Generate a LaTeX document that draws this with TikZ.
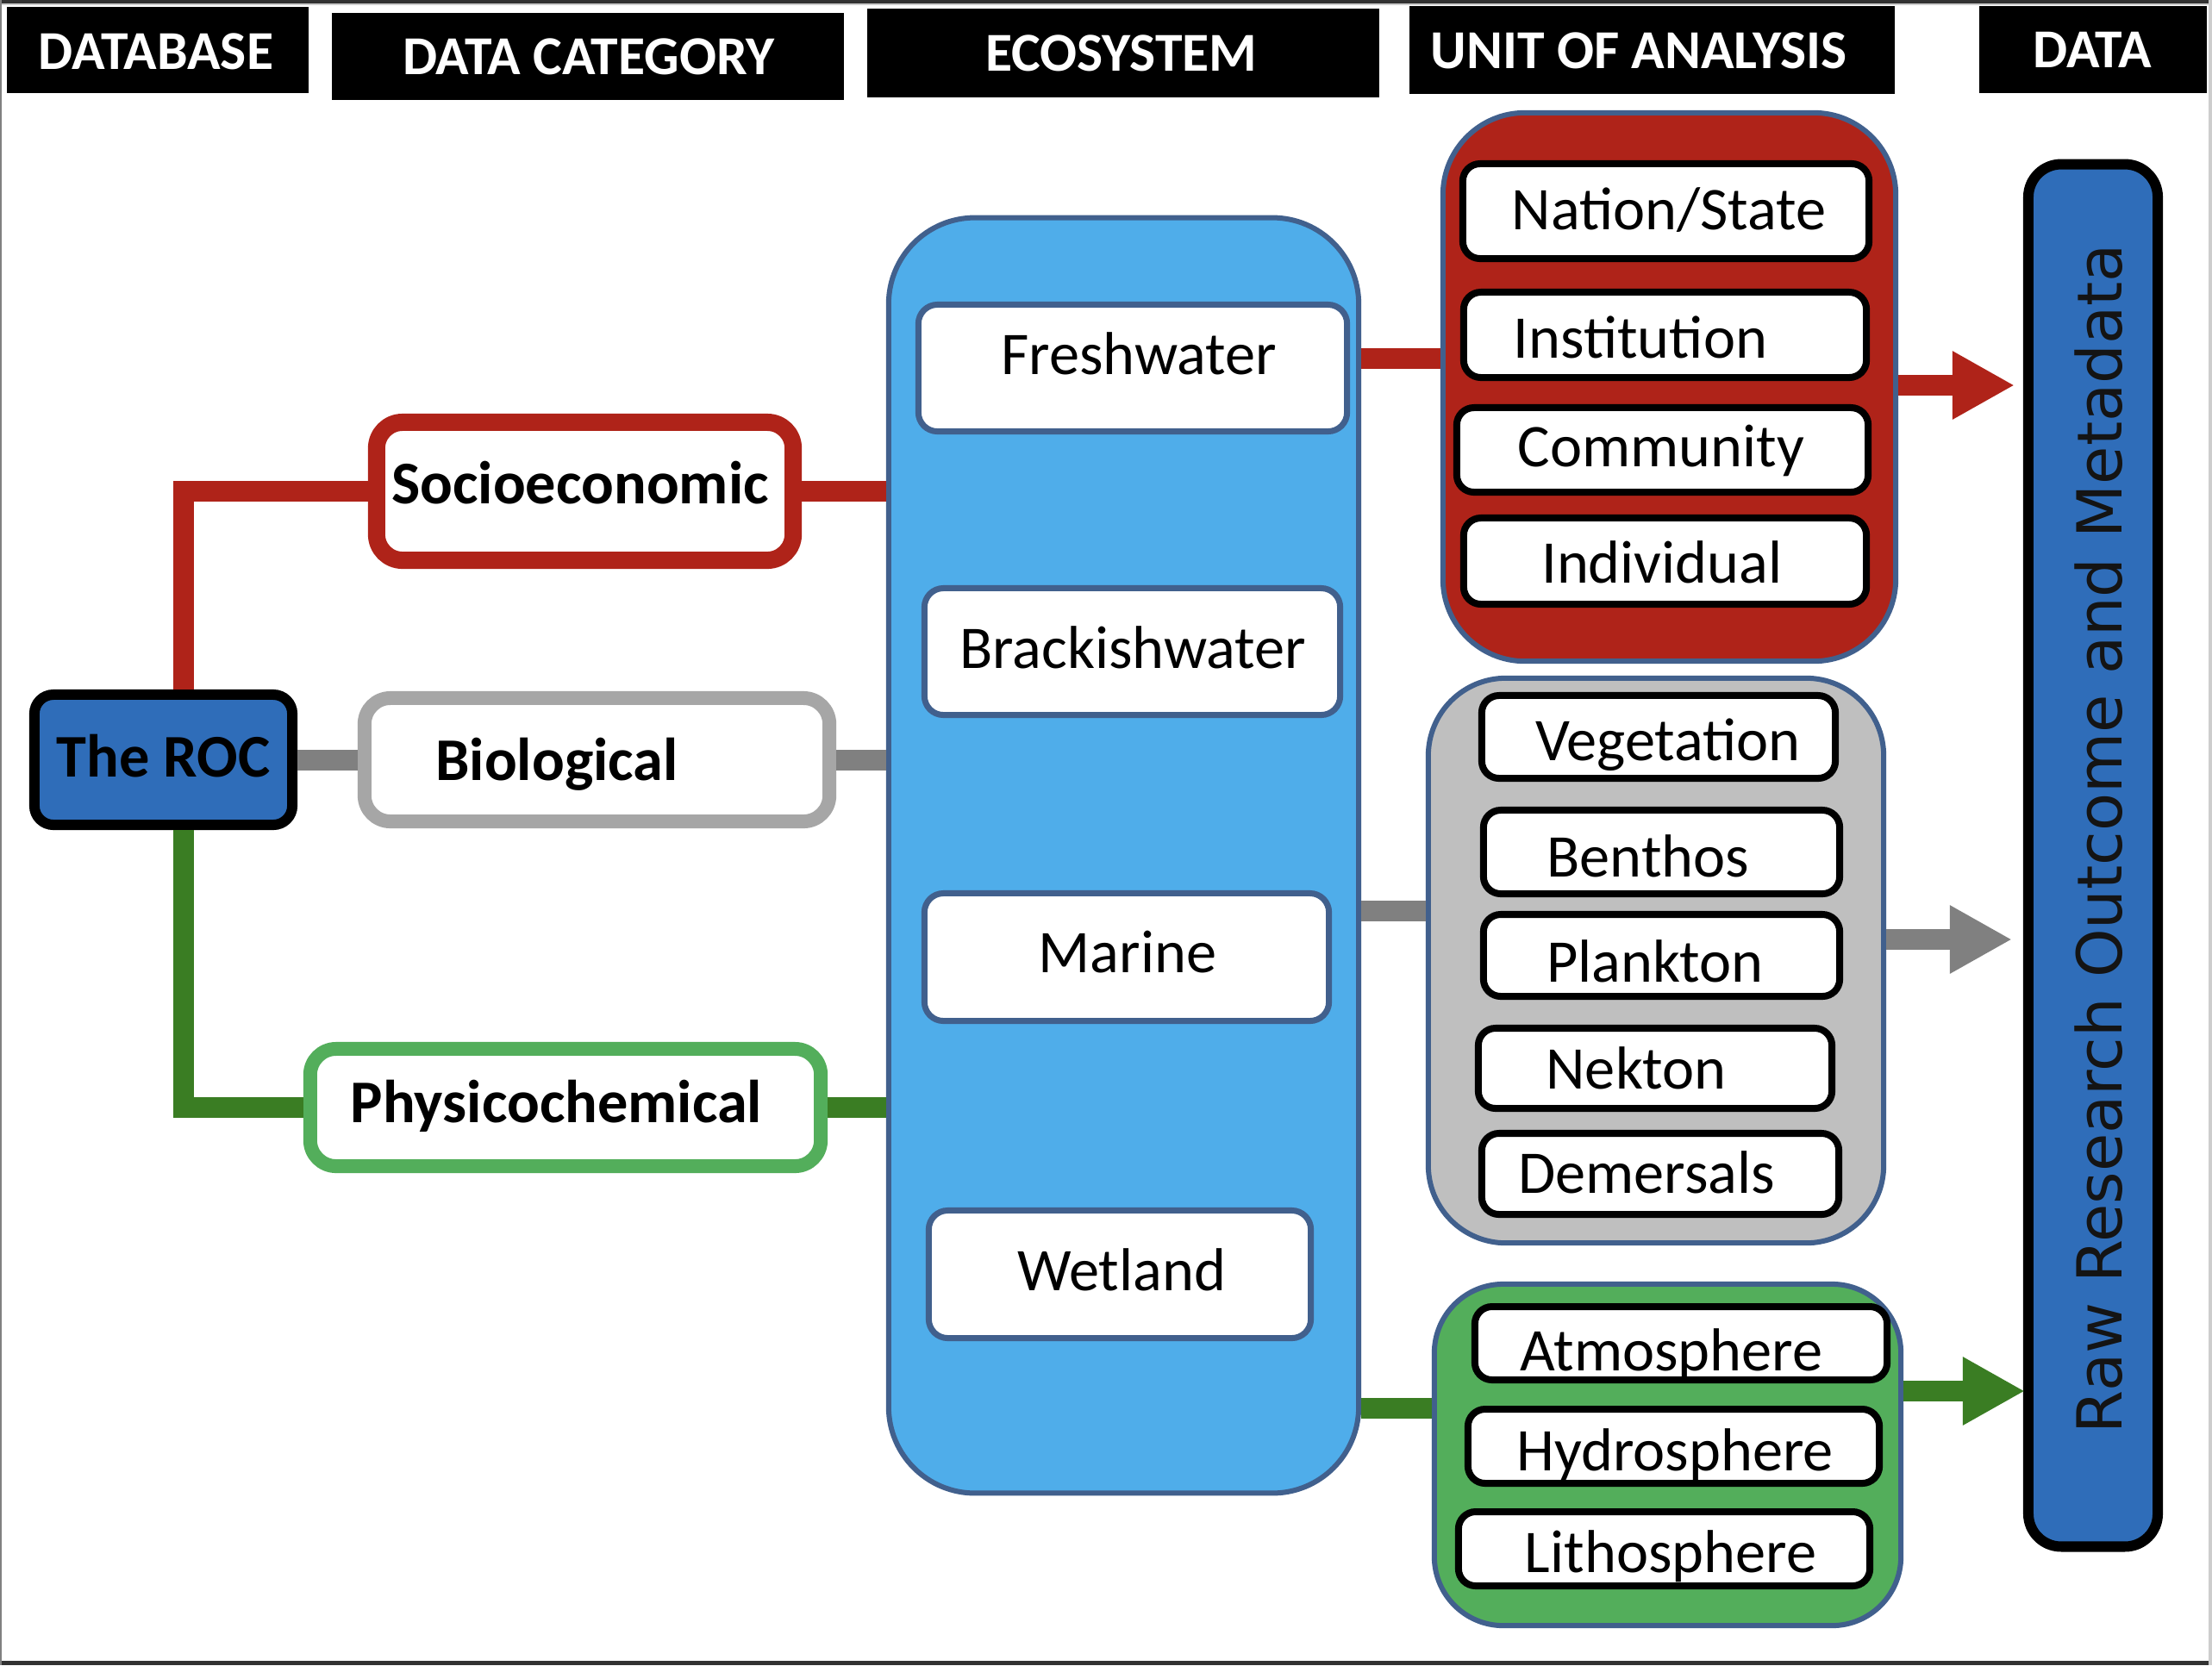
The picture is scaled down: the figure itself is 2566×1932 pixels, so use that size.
\documentclass[tikz,border=0pt]{standalone}
\usepackage{fontspec}
\setmainfont{Carlito}
\newfontfamily\vfont{DejaVu Sans}
\usetikzlibrary{arrows.meta,calc}
\definecolor{rocblue}{RGB}{47,109,185}
\definecolor{ecoblue}{RGB}{79,173,234}
\definecolor{edgeblue}{RGB}{65,96,141}
\definecolor{redc}{RGB}{175,35,25}
\definecolor{grayline}{RGB}{128,128,128}
\definecolor{graybord}{RGB}{166,166,166}
\definecolor{grayfill}{RGB}{191,191,191}
\definecolor{darkgreen}{RGB}{58,125,35}
\definecolor{lightgreen}{RGB}{83,174,91}
\definecolor{framedark}{RGB}{50,50,50}
\definecolor{framelight}{RGB}{205,205,205}
\begin{document}
\begin{tikzpicture}[x=0.01cm,y=-0.01cm,
  hdr/.style={fill=black, inner sep=0pt},
  htxt/.style={text=white, inner sep=0pt, font=\fontsize{18.1}{20}\selectfont\bfseries, text height=11.4pt, text depth=0pt},
  lbl/.style={inner sep=0pt, text height=12.6pt, text depth=0pt, font=\fontsize{20}{24}\selectfont},
  blbl/.style={lbl, font=\fontsize{20}{24}\selectfont\bfseries},
  catbox/.style={fill=white, inner sep=0pt, rounded corners=0.3cm},
  ecobox/.style={draw=edgeblue, fill=white, line width=0.07cm, inner sep=0pt, rounded corners=0.22cm},
  unitbox/.style={draw=black, fill=white, line width=0.08cm, inner sep=0pt, rounded corners=0.2cm},
  grp/.style={draw=edgeblue, line width=0.06cm, inner sep=0pt, rounded corners=0.9cm},
  conn/.style={line width=0.24cm},
  arr/.style={line width=0.24cm, -{Triangle[length=0.72cm,width=0.74cm]}}
]
\useasboundingbox (0,0) rectangle (2566,1932);
\fill[white] (0,0) rectangle (2566,1932);
% frame
\fill[framedark] (0,0) rectangle (2566,4);
\fill[framelight] (0,4) rectangle (2566,6);
\fill[framedark] (0,1927) rectangle (2566,1932);
\fill[gray] (0,0) rectangle (2,1932);
\fill[framelight] (2562,0) rectangle (2566,1932);

% headers
\node[hdr, minimum width=3.50cm, minimum height=1.00cm] (hdb) at (183,58) {};
\node[htxt] (t-hdb) at (181,60) {DATABASE};
\node[hdr, minimum width=5.94cm, minimum height=1.01cm] (hcat) at (682,65.5) {};
\node[htxt] (t-hcat) at (683,66.5) {DATA CATEGORY};
\node[hdr, minimum width=5.94cm, minimum height=1.03cm] (heco) at (1303,61.5) {};
\node[htxt] (t-heco) at (1301,62) {ECOSYSTEM};
\node[hdr, minimum width=5.63cm, minimum height=1.02cm] (hunit) at (1916.5,58) {};
\node[htxt] (t-hunit) at (1901,59) {UNIT OF ANALYSIS};
\node[hdr, minimum width=2.64cm, minimum height=1.01cm] (hdata) at (2428,57.5) {};
\node[htxt] (t-hdata) at (2427,58) {DATA};

% database and categories
\node[draw=black, fill=rocblue, line width=0.12cm, inner sep=0pt, rounded corners=0.22cm,
      minimum width=2.99cm, minimum height=1.51cm] (roc) at (189.5,881.5) {};
\node[blbl] (t-roc) at (189.5,879) {The ROC};
\node[catbox, draw=redc, line width=0.20cm, minimum width=4.83cm, minimum height=1.60cm] (socio) at (678.5,570) {};
\node[blbl] (t-socio) at (673,562) {Socioeconomic};
\node[catbox, draw=graybord, line width=0.16cm, minimum width=5.39cm, minimum height=1.43cm] (bio) at (692.5,881.5) {};
\node[blbl] (t-bio) at (646,883) {Biological};
\node[catbox, draw=lightgreen, line width=0.16cm, minimum width=5.92cm, minimum height=1.36cm] (phys) at (656,1285) {};
\node[blbl] (t-phys) at (645.5,1280) {Physicochemical};

% ecosystem
\node[draw=edgeblue, fill=ecoblue, line width=0.06cm, inner sep=0pt, rounded corners=1.0cm,
      minimum width=5.45cm, minimum height=14.79cm] (eco) at (1303.5,992.5) {};
\node[ecobox, minimum width=4.97cm, minimum height=1.47cm] (fresh) at (1314,427) {};
\node[lbl] (t-fresh) at (1321,412) {Freshwater};
\node[ecobox, minimum width=4.82cm, minimum height=1.47cm] (brack) at (1313.5,756) {};
\node[lbl] (t-brack) at (1314,753) {Brackishwater};
\node[ecobox, minimum width=4.69cm, minimum height=1.48cm] (marine) at (1307,1110.5) {};
\node[lbl] (t-marine) at (1308,1106) {Marine};
\node[ecobox, minimum width=4.43cm, minimum height=1.48cm] (wet) at (1299,1478.5) {};
\node[lbl] (t-wet) at (1301,1475) {Wetland};

% unit groups
\node[grp, fill=redc, minimum width=5.25cm, minimum height=6.36cm, rounded corners=0.95cm] (grpr) at (1936.5,449) {};
\node[unitbox, minimum width=4.71cm, minimum height=1.10cm] (nation) at (1932.5,245) {};
\node[lbl] (t-nation) at (1936,244) {Nation/State};
\node[unitbox, minimum width=4.67cm, minimum height=0.99cm] (inst) at (1931.5,388.5) {};
\node[lbl] (t-inst) at (1903,393.5) {Institution};
\node[unitbox, minimum width=4.77cm, minimum height=0.98cm] (comm) at (1928.5,522) {};
\node[lbl] (t-comm) at (1927,519.5) {Community};
\node[unitbox, minimum width=4.67cm, minimum height=1.00cm] (indiv) at (1931.5,651) {};
\node[lbl] (t-indiv) at (1928,654.5) {Individual};

\node[grp, fill=grayfill, minimum width=5.28cm, minimum height=6.55cm] (grpg) at (1921,1114.5) {};
\node[unitbox, minimum width=4.10cm, minimum height=0.96cm] (veg) at (1924,855) {};
\node[lbl] (t-veg) at (1935,860.5) {Vegetation};
\node[unitbox, minimum width=4.13cm, minimum height=0.97cm] (benth) at (1927.5,988.5) {};
\node[lbl] (t-benth) at (1912,995) {Benthos};
\node[unitbox, minimum width=4.13cm, minimum height=0.95cm] (plank) at (1927.5,1108.5) {};
\node[lbl] (t-plank) at (1920,1117) {Plankton};
\node[unitbox, minimum width=4.10cm, minimum height=0.93cm] (nekt) at (1920,1239.5) {};
\node[lbl] (t-nekt) at (1898,1241) {Nekton};
\node[unitbox, minimum width=4.14cm, minimum height=0.94cm] (dem) at (1926,1362) {};
\node[lbl] (t-dem) at (1910,1362.5) {Demersals};

\node[grp, fill=lightgreen, minimum width=5.41cm, minimum height=3.96cm, rounded corners=0.8cm] (grpn) at (1934.5,1688) {};
\node[unitbox, minimum width=4.78cm, minimum height=0.85cm] (atm) at (1950,1558.5) {};
\node[lbl] (t-atm) at (1939,1568) {Atmosphere};
\node[unitbox, minimum width=4.77cm, minimum height=0.86cm] (hyd) at (1941.5,1678) {};
\node[lbl] (t-hyd) at (1943,1684) {Hydrosphere};
\node[unitbox, minimum width=4.77cm, minimum height=0.86cm] (lith) at (1930.5,1797) {};
\node[lbl] (t-lith) at (1938,1802) {Lithosphere};

% data bar
\node[draw=black, fill=rocblue, line width=0.12cm, inner sep=0pt, rounded corners=0.38cm,
      minimum width=1.50cm, minimum height=16.03cm] (bar) at (2428,992.5) {};
\node[rotate=90, inner sep=0pt, text height=14.9pt, text depth=0pt, text=black!92,
      font=\vfont\fontsize{20.5}{24}\selectfont] (t-bar) at (2435,973) {Raw Research Outcome and Metadata};

% connectors: database -> categories
\draw[conn, redc] ([xshift=0.235cm]roc.north) |- (socio.west);
\draw[conn, grayline] (roc.east) -- (bio.west);
\draw[conn, darkgreen] ([xshift=0.235cm]roc.south) |- (phys.west);
% categories -> ecosystem
\draw[conn, redc] (socio.east) -- (socio.east -| eco.west);
\draw[conn, grayline] (bio.east) -- (bio.east -| eco.west);
\draw[conn, darkgreen] (phys.east) -- (phys.east -| eco.west);
% ecosystem -> units
\coordinate (rin) at (1620,416);
\coordinate (gin) at (1620,1057);
\coordinate (nin) at (1620,1634);
\draw[conn, redc] (rin -| eco.east) -- (rin -| grpr.west);
\draw[conn, grayline] (gin -| eco.east) -- (gin -| grpg.west);
\draw[conn, darkgreen] (nin -| eco.east) -- (nin -| grpn.west);
% units -> data
\coordinate (rtip) at (2337,447);
\coordinate (gtip) at (2334,1090);
\coordinate (ntip) at (2349,1614);
\draw[arr, redc] (rtip -| grpr.east) -- (rtip);
\draw[arr, grayline] (gtip -| grpg.east) -- (gtip);
\draw[arr, darkgreen] (ntip -| grpn.east) -- (ntip);
\end{tikzpicture}
\end{document}
